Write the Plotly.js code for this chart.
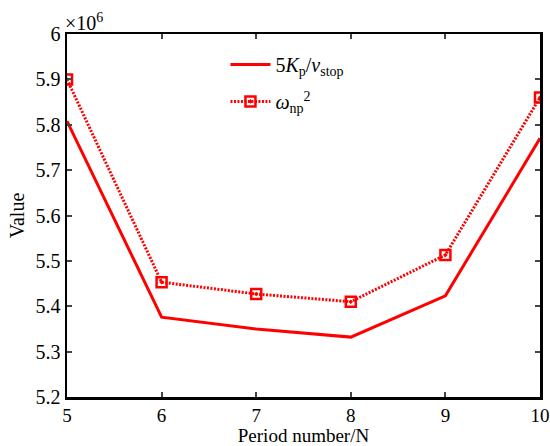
<!DOCTYPE html>
<html>
<head>
<meta charset="utf-8">
<script src="https://cdn.plot.ly/plotly-3.0.1.min.js"></script>
<style>html,body{margin:0;padding:0;background:#fff;}#chart{width:550px;height:446px;}</style>
</head>
<body>
<div id="chart"></div>
<script>
var periods = [5, 6, 7, 8, 9, 10];
var kpSeries = [5.808e6, 5.376e6, 5.350e6, 5.332e6, 5.423e6, 5.770e6];
var omegaSeries = [5.900e6, 5.453e6, 5.427e6, 5.410e6, 5.513e6, 5.860e6];
var yTickVals = [5.2e6, 5.3e6, 5.4e6, 5.5e6, 5.6e6, 5.7e6, 5.8e6, 5.9e6, 6.0e6];
var yTickText = ['5.2', '5.3', '5.4', '5.5', '5.6', '5.7', '5.8', '5.9', '6'];

var font = 'Liberation Serif, Times New Roman, serif';
var traces = [
  {
    x: periods, y: kpSeries, type: 'scatter', mode: 'lines',
    name: '5<i>K</i><sub>p</sub>/<i>v</i><sub>stop</sub>',
    legendgroup: 'a',
    line: {color: '#ff0000', width: 3}
  },
  {
    x: periods, y: omegaSeries, type: 'scatter', mode: 'lines+markers',
    name: '<i>ω</i><sub>np</sub><sup>2</sup>',
    legendgroup: 'b',
    line: {color: '#ff0000', width: 3, dash: '2px,1.5px'},
    marker: {symbol: 'square-open-dot', size: 10, color: '#ff0000', line: {width: 2.5, color: '#ff0000'}}
  }
];

var layout = {
  width: 550, height: 446,
  margin: {l: 67, r: 10, t: 34, b: 49},
  paper_bgcolor: '#fff', plot_bgcolor: '#fff',
  font: {family: font, size: 20, color: '#000'},
  showlegend: true,
  legend: {x: 0.335, y: 0.97, xanchor: 'left', yanchor: 'top', bgcolor: 'rgba(0,0,0,0)',
           font: {family: font, size: 20}, tracegroupgap: 8, itemwidth: 40},
  xaxis: {
    range: [5, 10], tickvals: periods, ticks: 'inside', ticklen: 5, tickwidth: 2,
    showline: true, linewidth: 2.5, linecolor: '#000', mirror: 'allticks',
    showgrid: false, zeroline: false,
    tickfont: {family: font, size: 19},
    title: {text: 'Period number/N', font: {family: font, size: 19}, standoff: 3}
  },
  yaxis: {
    range: [5.2e6, 6.0e6], tickvals: yTickVals, ticktext: yTickText,
    ticks: 'inside', ticklen: 5, tickwidth: 2,
    showline: true, linewidth: 2.5, linecolor: '#000', mirror: 'allticks',
    showgrid: false, zeroline: false,
    tickfont: {family: font, size: 20},
    title: {text: 'Value', font: {family: font, size: 20}, standoff: 6}
  },
  annotations: [{
    text: '×10<sup>6</sup>', xref: 'paper', yref: 'paper', x: 0.0, y: 1.0,
    xanchor: 'left', yanchor: 'bottom', showarrow: false,
    font: {family: font, size: 20}, xshift: -4, yshift: -2
  }]
};

Plotly.newPlot('chart', traces, layout, {displayModeBar: false, staticPlot: true});
</script>
</body>
</html>
